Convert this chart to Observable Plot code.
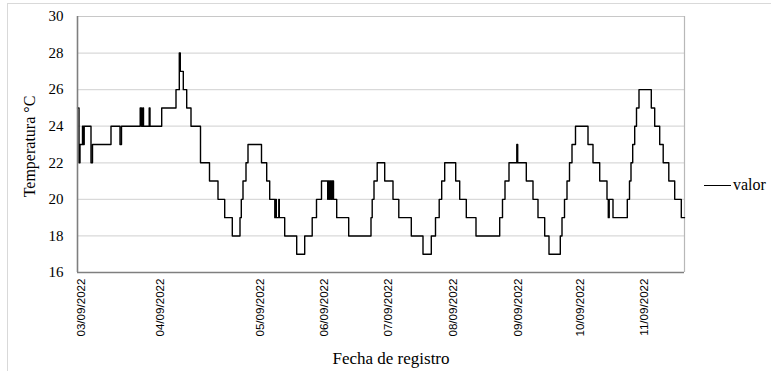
<!DOCTYPE html>
<html>
<head>
<meta charset="utf-8">
<script src="https://cdn.jsdelivr.net/npm/d3@7"></script>
<script src="https://cdn.jsdelivr.net/npm/@observablehq/plot@0.6"></script>
<style>
  html, body { margin: 0; padding: 0; background: #fff; }
  #wrap { position: relative; width: 771px; height: 371px; overflow: hidden; }
  #border { position: absolute; left: 7px; top: 3px; width: 800px; height: 400px; border: 1px solid #d9d9d9; pointer-events: none; }
  #legend { position: absolute; left: 704px; top: 176px; font-family: 'Liberation Serif', 'Times New Roman', serif; font-size: 16px; color: #000; display: flex; align-items: center; }
  #legend .sw { width: 27px; height: 0; border-top: 1.4px solid #000; margin-right: 2px; }
</style>
</head>
<body>
<div id="wrap">
  <div id="chart"></div>
  <div id="border"></div>
  <div id="legend"><span class="sw"></span><span>valor</span></div>
</div>
<script>
// Record positions along the category axis where the reading changes, and the reading (°C)
const pos = [0, 1.5, 2.5, 5, 6, 6.7, 13.5, 15, 33.5, 42.5, 44, 62.7, 64, 65.3, 66, 71.7, 72.5, 84.2, 98.5, 101.8,
  102.8, 105.8, 109.2, 113.5, 123, 132, 140.5, 147.2, 154.8, 162.5, 163.8, 165.5, 168.5, 170.5, 184, 189.2,
  192.2, 197.3, 198, 198.8, 201.3, 201.8, 207.2, 219.2, 227.2, 234.7, 239, 244, 250.2, 250.8, 252, 252.8,
  254, 254.8, 256, 259.2, 271.2, 293.5, 294.7, 296.5, 299.7, 307.2, 315.5, 321.3, 333.8, 345.5, 353.8, 358,
  361.7, 364.2, 367.2, 378.2, 382.2, 388.8, 398.5, 422.2, 425, 427.5, 431.5, 439.3, 440.2, 448.8, 455.5,
  460.5, 467.2, 471.5, 482.8, 484.5, 487, 489.5, 492, 494.5, 498, 510.5, 515.5, 522.2, 529.5, 530.8, 531.7,
  535.5, 549.8, 552, 553.5, 555.2, 557.2, 559, 561.5, 573.8, 577.2, 582.2, 585.7, 591.3, 597.2, 603.8, 607];
const temp = [25, 22, 23, 24, 23, 24, 22, 23, 24, 23, 24, 25, 24, 25, 24, 25, 24, 25, 26, 28,
  27, 26, 25, 24, 22, 21, 20, 19, 18, 19, 20, 21, 22, 23, 22, 21,
  20, 19, 20, 19, 20, 19, 18, 17, 18, 19, 20, 21, 20, 21, 20, 21,
  20, 21, 20, 19, 18, 19, 20, 21, 22, 21, 20, 19, 18, 17, 18, 19,
  20, 21, 22, 21, 20, 19, 18, 19, 20, 21, 22, 23, 22, 21, 20,
  19, 18, 17, 18, 19, 20, 21, 22, 23, 24, 23, 22, 21, 20, 19, 20,
  19, 20, 21, 22, 23, 24, 25, 26, 25, 24, 23, 22, 21, 20, 19, 19];

const tickPos = [3.5, 83, 183, 247, 311, 375.5, 440.5, 503, 567];
const tickLabels = ["03/09/2022", "04/09/2022", "05/09/2022", "06/09/2022", "07/09/2022",
  "08/09/2022", "09/09/2022", "10/09/2022", "11/09/2022"];
const yTicks = [16, 18, 20, 22, 24, 26, 28, 30];
const gridTicks = [18, 20, 22, 24, 26, 28];
const xTitle = "Fecha de registro";
const yTitle = "Temperatura °C";

const data = pos.map((p, i) => ({pos: p, temp: temp[i]}));
const labelMap = new Map(tickPos.map((p, i) => [p, tickLabels[i]]));

const chart = Plot.plot({
  width: 771,
  height: 371,
  marginLeft: 77,
  marginRight: 87,
  marginTop: 16,
  marginBottom: 99,
  x: {domain: [0, 607]},
  y: {domain: [16, 30]},
  style: {fontFamily: "'Liberation Serif', 'Times New Roman', serif", background: "transparent", color: "#000", overflow: "visible"},
  marks: [
    Plot.gridY(gridTicks, {stroke: "#d9d9d9", strokeOpacity: 1, strokeWidth: 1.3}),
    Plot.ruleY([30], {stroke: "#c8c8c8", strokeWidth: 1.2}),
    Plot.ruleX([607], {stroke: "#b8b8b8", strokeWidth: 1.2}),
    Plot.line(data, {x: "pos", y: "temp", curve: "step-after", stroke: "#000", strokeWidth: 1.4}),
    Plot.ruleX([0], {stroke: "#7f7f7f", strokeWidth: 1.6}),
    Plot.ruleY([16], {stroke: "#7f7f7f", strokeWidth: 1.6}),
    Plot.axisY(yTicks, {tickSize: 0, tickPadding: 14, fontSize: 15, label: null}),
    Plot.axisX(tickPos, {tickFormat: d => labelMap.get(d), tickRotate: -90, tickSize: 0, tickPadding: 6, fontSize: 11.6, fontFamily: "'Liberation Sans', Arial, sans-serif", label: null}),
    Plot.text([xTitle], {text: d => d, frameAnchor: "bottom", dx: 10, dy: 86, fontSize: 17, textAnchor: "middle", lineAnchor: "middle", fill: "#000"}),
    Plot.text([yTitle], {text: d => d, frameAnchor: "left", rotate: -90, dx: -48, dy: 2, fontSize: 16, textAnchor: "middle", lineAnchor: "middle", fill: "#000"})
  ]
});
document.getElementById("chart").appendChild(chart);
</script>
</body>
</html>
